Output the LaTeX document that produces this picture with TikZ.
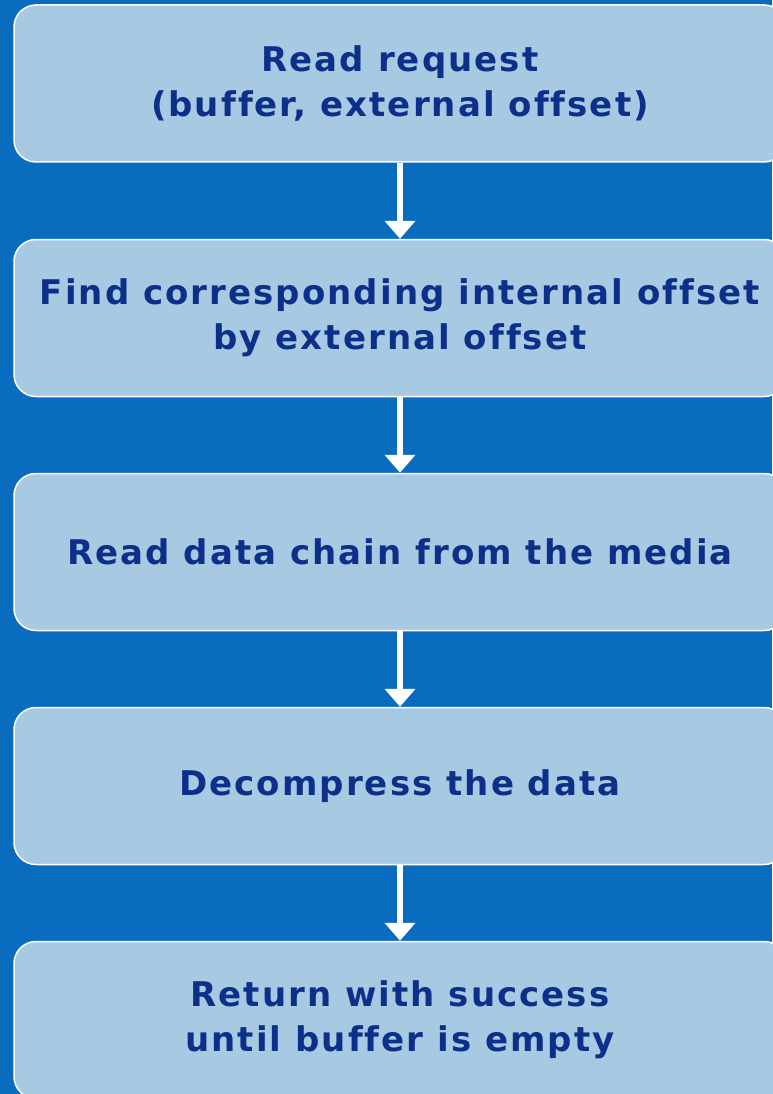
\documentclass[tikz,border=0pt]{standalone}
\usepackage{fontspec}
\setmainfont[Ligatures=NoCommon, LetterSpace=6]{DejaVu Sans}
\usetikzlibrary{arrows.meta}

\definecolor{bgblue}{HTML}{0A6CBF}
\definecolor{boxblue}{HTML}{A7C9E2}
\definecolor{txtblue}{HTML}{0C2F8A}

\tikzset{
	stepbox/.style={draw=white, line width=1.5pt, fill=boxblue, rounded corners=22pt,
		minimum width=772pt, minimum height=157pt, align=center,
		text=txtblue, font=\fontsize{34}{45}\selectfont\bfseries},
}

\begin{document}
\begin{tikzpicture}[x=1pt, y=1pt, arrows={-Triangle[width=30pt,length=18pt]}]
	\fill[bgblue] (0,0) rectangle (772,-1094);
	\useasboundingbox (0,0) rectangle (772,-1094);

	\node[stepbox] (read) at (400,-83.5) {Read request\\(buffer, external offset)};
	\node[stepbox] (find) at (400,-318) {Find corresponding internal offset\\by external offset};
	\node[stepbox] (chain) at (400,-552) {Read data chain from the media};
	\node[stepbox] (unpack) at (400,-786) {Decompress the data};
	\node[stepbox] (done) at (400,-1020) {Return with success\\until buffer is empty};

	\draw[white, line width=6pt] (read) to (find);
	\draw[white, line width=6pt] (find) to (chain);
	\draw[white, line width=6pt] (chain) to (unpack);
	\draw[white, line width=6pt] (unpack) to (done);
\end{tikzpicture}
\end{document}
